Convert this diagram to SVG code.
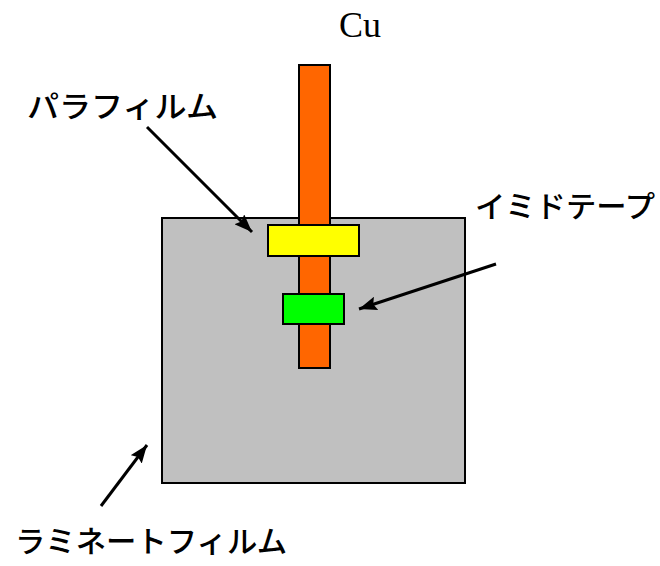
<svg xmlns="http://www.w3.org/2000/svg" width="660" height="566" viewBox="0 0 660 566">
<defs>
<marker id="ah" viewBox="0 0 18 14" refX="18" refY="7" markerWidth="18" markerHeight="14" markerUnits="userSpaceOnUse" orient="auto">
<path d="M0,0 L18,7 L0,14 L3,7 z" fill="#000"/>
</marker>
<style>
.part{stroke:#000;stroke-width:2}
.lbl{font-family:"Noto Sans CJK JP","Noto Sans",sans-serif;font-size:30px;font-weight:500;fill:#000}
.conn{stroke:#000;stroke-width:3;fill:none}
</style>
</defs>
<rect width="660" height="566" fill="#fff"/>
<g id="laminate"><rect class="part" x="162" y="218" width="303" height="265" fill="#c0c0c0"/></g>
<g id="cu"><rect class="part" x="299" y="65" width="31" height="303" fill="#ff6600"/>
<text x="360" y="37" font-family="'Liberation Serif',serif" font-size="36" text-anchor="middle">Cu</text></g>
<g id="parafilm"><rect class="part" x="268" y="225" width="91" height="31" fill="#ffff00"/></g>
<g id="imide"><rect class="part" x="283" y="294" width="61" height="30" fill="#00ff00"/></g>
<g id="connectors">
<line class="conn" x1="147" y1="127" x2="252" y2="232" marker-end="url(#ah)"/>
<line class="conn" x1="496" y1="264" x2="359" y2="309" marker-end="url(#ah)"/>
<line class="conn" x1="101" y1="506" x2="147" y2="445" marker-end="url(#ah)"/>
</g>
<g id="labels">
<text class="lbl" x="27" y="117" textLength="191" lengthAdjust="spacingAndGlyphs">パラフィルム</text>
<text class="lbl" x="475" y="217" textLength="180" lengthAdjust="spacingAndGlyphs">イミドテープ</text>
<text class="lbl" x="15" y="552" textLength="272" lengthAdjust="spacingAndGlyphs">ラミネートフィルム</text>
</g>
</svg>
